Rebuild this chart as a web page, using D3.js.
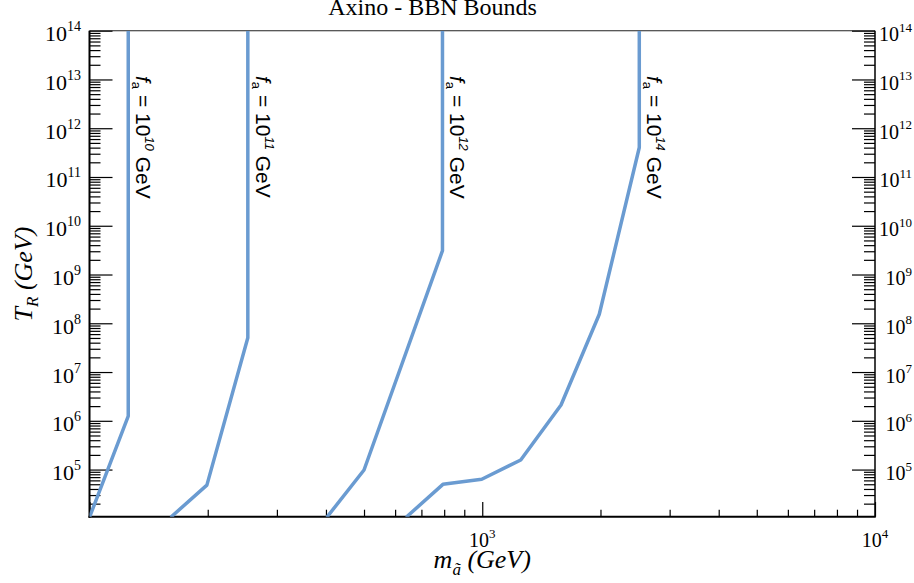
<!DOCTYPE html>
<html>
<head>
<meta charset="utf-8">
<script src="https://cdn.jsdelivr.net/npm/d3@7"></script>
<style>
  html, body { margin: 0; padding: 0; background: #fff; }
  svg text { white-space: pre; }
</style>
</head>
<body>
<svg id="chart" width="914" height="583"></svg>
<script>
// Axino reheating-temperature bounds from BBN, one curve per axion decay constant f_a
const exponentsFa = ["10", "11", "12", "14"];

// axino mass (GeV) and maximal reheating temperature T_R (GeV) along each bound
const massFa10 = [100, 125.5, 125.5];
const tempFa10 = [1.05e4, 1.25e6, 1e14];

const massFa11 = [161, 199, 253, 253];
const tempFa11 = [1.05e4, 4.8e4, 5.06e7, 1e14];

const massFa12 = [402, 500, 792, 792];
const tempFa12 = [1.05e4, 9.8e4, 3.08e9, 1e14];

const massFa14 = [640, 794, 997, 1253, 1587, 1986, 2511, 2511];
const tempFa14 = [1.05e4, 4.98e4, 6.34e4, 1.57e5, 2.11e6, 1.53e8, 4.03e11, 1e14];

// tick labels (powers of ten)
const xTickExponents = [3, 4];
const yTickExponents = [5, 6, 7, 8, 9, 10, 11, 12, 13, 14];

const title = "Axino - BBN Bounds";

const massSeries = [massFa10, massFa11, massFa12, massFa14];
const tempSeries = [tempFa10, tempFa11, tempFa12, tempFa14];

const plotLeft = 89.5, plotRight = 875, plotTop = 30.7, plotBottom = 516.7;
const lineColor = "#6a9bd1";
const serif = "'Liberation Serif', 'Times New Roman', Times, serif";
const sans = "'Liberation Sans', Arial, Helvetica, sans-serif";

const svg = d3.select("#chart");
svg.append("rect").attr("width", 914).attr("height", 583).attr("fill", "#fff");

const x = d3.scaleLog().domain([100, 1e4]).range([plotLeft, plotRight]);
const y = d3.scaleLog().domain([1.08e4, 1e14]).range([plotBottom, plotTop]);

// minor tick values: 2..9 times each power of ten inside the domain
function minors(scale, lo, hi) {
  const out = [];
  const [d0, d1] = scale.domain();
  for (let k = lo; k <= hi; k++) {
    for (let m = 2; m <= 9; m++) {
      const v = m * Math.pow(10, k);
      if (v > d0 && v < d1) out.push(v);
    }
  }
  return out;
}

const xMajors = [100, 1000, 10000];
const xMinors = minors(x, 2, 3);
const yMajors = d3.range(4, 15).map(k => Math.pow(10, k)).filter(v => v >= y.domain()[0]);
const yMinors = minors(y, 4, 13);

function styleAxis(g) {
  g.select(".domain").remove();
  g.selectAll(".tick line").attr("stroke", "#000").attr("stroke-width", 1.2);
  g.selectAll(".tick text").remove();
}

// bottom axis, ticks pointing inward
svg.append("g").attr("transform", `translate(0,${plotBottom})`)
  .call(d3.axisBottom(x).tickValues(xMajors).tickSize(-14.7).tickFormat(""))
  .call(styleAxis);
svg.append("g").attr("transform", `translate(0,${plotBottom})`)
  .call(d3.axisBottom(x).tickValues(xMinors).tickSize(-7).tickFormat(""))
  .call(styleAxis);

// left and right axes, ticks pointing inward
svg.append("g").attr("transform", `translate(${plotLeft},0)`)
  .call(d3.axisLeft(y).tickValues(yMajors).tickSize(-23).tickFormat(""))
  .call(styleAxis);
svg.append("g").attr("transform", `translate(${plotLeft},0)`)
  .call(d3.axisLeft(y).tickValues(yMinors).tickSize(-11).tickFormat(""))
  .call(styleAxis);
svg.append("g").attr("transform", `translate(${plotRight},0)`)
  .call(d3.axisRight(y).tickValues(yMajors).tickSize(-23).tickFormat(""))
  .call(styleAxis);
svg.append("g").attr("transform", `translate(${plotRight},0)`)
  .call(d3.axisRight(y).tickValues(yMinors).tickSize(-11).tickFormat(""))
  .call(styleAxis);

// frame
svg.append("line").attr("x1", plotLeft).attr("x2", plotRight).attr("y1", plotTop).attr("y2", plotTop)
  .attr("stroke", "#222").attr("stroke-width", 1.1);
svg.append("line").attr("x1", plotRight).attr("x2", plotRight).attr("y1", plotTop).attr("y2", plotBottom)
  .attr("stroke", "#000").attr("stroke-width", 1.5);
svg.append("line").attr("x1", plotLeft).attr("x2", plotLeft).attr("y1", plotTop).attr("y2", plotBottom + 1)
  .attr("stroke", "#000").attr("stroke-width", 2);
svg.append("line").attr("x1", plotLeft - 1).attr("x2", plotRight + 0.75).attr("y1", plotBottom).attr("y2", plotBottom)
  .attr("stroke", "#000").attr("stroke-width", 2);

// power-of-ten tick labels
function powerLabel(sel, exp, baseSize, supSize, supShift) {
  sel.append("tspan").attr("font-size", baseSize).text("10");
  sel.append("tspan").attr("font-size", supSize).attr("dy", -supShift).text(exp);
}

xTickExponents.forEach(e => {
  const t = svg.append("text")
    .attr("x", x(Math.pow(10, e))).attr("y", 547)
    .attr("text-anchor", "middle").attr("font-family", serif).attr("fill", "#000");
  powerLabel(t, String(e), 20, 13, 9);
});

yTickExponents.forEach(e => {
  const v = Math.pow(10, e);
  const tl = svg.append("text")
    .attr("x", 81).attr("y", y(v) + 10.5)
    .attr("text-anchor", "end").attr("font-family", serif).attr("fill", "#000");
  powerLabel(tl, String(e), 22, 14, 10);
  const tr = svg.append("text")
    .attr("x", 912).attr("y", y(v) + 10.5)
    .attr("text-anchor", "end").attr("font-family", serif).attr("fill", "#000");
  powerLabel(tr, String(e), 20, 13, 9.5);
});

// curves, clipped to the plot area
svg.append("clipPath").attr("id", "plot-clip")
  .append("rect").attr("x", plotLeft).attr("y", plotTop)
  .attr("width", plotRight - plotLeft).attr("height", plotBottom - plotTop);

const line = d3.line().x(d => x(d[0])).y(d => y(d[1]));
const plot = svg.append("g").attr("clip-path", "url(#plot-clip)");

massSeries.forEach((ms, i) => {
  const pts = ms.map((m, j) => [m, tempSeries[i][j]]);
  plot.append("path")
    .datum(pts)
    .attr("d", line)
    .attr("fill", "none")
    .attr("stroke", lineColor)
    .attr("stroke-width", 3.5)
    .attr("stroke-linejoin", "round");
});

// rotated labels next to the vertical parts of the curves
massSeries.forEach((ms, i) => {
  const xv = x(ms[ms.length - 1]) + 8;
  const t = svg.append("text")
    .attr("transform", `translate(${xv},76) rotate(90)`)
    .attr("font-family", sans).attr("font-size", 21).attr("fill", "#000");
  t.append("tspan").attr("font-style", "italic").text("f");
  t.append("tspan").attr("font-size", 13).attr("dy", 4).text("a");
  t.append("tspan").attr("dy", -4).text(" = 10");
  t.append("tspan").attr("font-size", 13).attr("font-style", "italic").attr("dy", -9).text(exponentsFa[i]);
  t.append("tspan").attr("dy", 9).text(" GeV");
});

// title
svg.append("text")
  .attr("x", 432.5).attr("y", 15)
  .attr("text-anchor", "middle")
  .attr("font-family", serif).attr("font-size", 24).attr("fill", "#000")
  .text(title);

// x axis title
const xt = svg.append("text")
  .attr("x", (plotLeft + plotRight) / 2).attr("y", 568)
  .attr("text-anchor", "middle")
  .attr("font-family", serif).attr("font-style", "italic").attr("font-size", 26).attr("fill", "#000");
xt.append("tspan").text("m");
xt.append("tspan").attr("font-size", 17).attr("dy", 7).text("ã");
xt.append("tspan").attr("dy", -7).text(" (GeV)");

// y axis title
const yt = svg.append("text")
  .attr("transform", "translate(32,274) rotate(-90)")
  .attr("text-anchor", "middle")
  .attr("font-family", serif).attr("font-style", "italic").attr("font-size", 26).attr("fill", "#000");
yt.append("tspan").text("T");
yt.append("tspan").attr("font-size", 17).attr("dy", 6).text("R");
yt.append("tspan").attr("dy", -6).text(" (GeV)");
</script>
</body>
</html>
